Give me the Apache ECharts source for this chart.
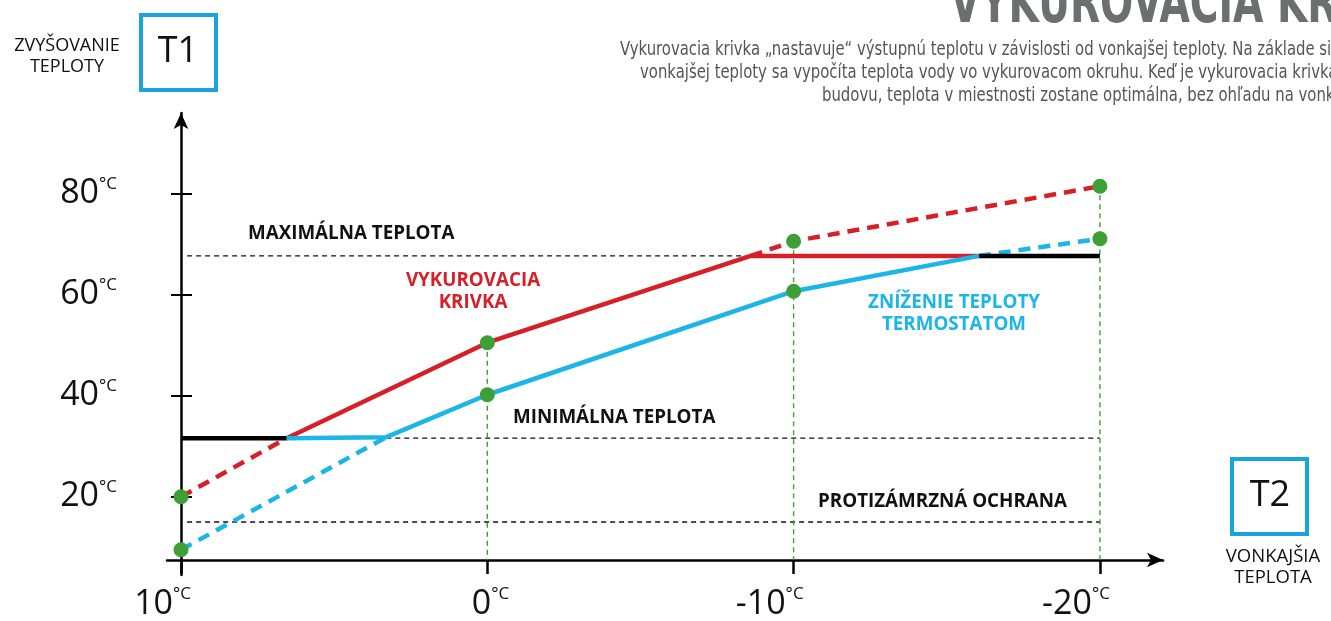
<!DOCTYPE html>
<html>
<head>
<meta charset="utf-8">
<script src="https://cdn.jsdelivr.net/npm/echarts@6/dist/echarts.min.js"></script>
<style>
  html, body { margin: 0; padding: 0; background: #fff; }
  #chart { width: 1331px; height: 621px; }
</style>
</head>
<body>
<div id="chart"></div>
<script>
// Axis ticks (outside temperature T2, supply temperature T1)
const xTicks = [10, 0, -10, -20];
const yTicks = [20, 40, 60, 80];

// Level where the horizontal axis crosses the vertical one
const axisBase = 7.5;

// Heating curve (red)
const heatLow  = [[10, 20], [6.55, 31.6]];
const heatMain = [[6.55, 31.6], [0, 50.5], [-8.6, 67.7], [-16.05, 67.7]];
const heatHigh = [[-8.6, 67.7], [-10, 70.6], [-20, 81.5]];

// Curve lowered by the thermostat (blue)
const lowLow  = [[10, 9.5], [3.3, 31.8]];
const lowMain = [[6.55, 31.6], [3.3, 31.8], [0, 40.2], [-10, 60.7], [-16.05, 67.7]];
const lowHigh = [[-16.05, 67.7], [-20, 71.1]];

// Limits
const minLimit   = [[10, 31.6], [6.55, 31.6]];
const maxLimit   = [[-16.05, 67.7], [-20, 67.7]];
const maxGuide   = [[9.8, 67.7], [-8.6, 67.7]];
const minGuide   = [[3.3, 31.6], [-20, 31.6]];
const frostGuide = [[9.8, 15], [-20, 15]];

// Marked points
const points = [[10, 20], [10, 9.5], [0, 50.5], [0, 40.2], [-10, 70.6], [-10, 60.7], [-20, 81.5], [-20, 71.1]];
const dropFrom = [[0, 50.5], [-10, 70.6], [-20, 81.5]];

const RED = '#d71f27';
const BLUE = '#1bb5e8';
const GREEN = '#3d9f36';
const FONT = 'Open Sans, sans-serif';
const NARROW = '"Liberation Sans Narrow", "DejaVu Sans Condensed", "Liberation Sans", sans-serif';

function line(data, color, width, dashed, dash, z) {
  return {
    type: 'line', data: data, symbol: 'none', silent: true, animation: false, z: z || 3,
    lineStyle: { color: color, width: width, type: dashed ? (dash || [12, 8]) : 'solid', cap: 'butt' }
  };
}

const series = [
  line(frostGuide, '#111', 1.4, true, [5, 4], 2),
  line(minGuide, '#111', 1.4, true, [5, 4], 2),
  line(maxGuide, '#111', 1.4, true, [5, 4], 2),
  ...dropFrom.map(p => line([p, [p[0], axisBase]], GREEN, 1.4, true, [5, 4], 2)),
  line(minLimit, '#000', 4.5, false, null, 4),
  line(maxLimit, '#000', 4.5, false, null, 4),
  line(heatLow, RED, 4.5, true),
  line(heatMain, RED, 4.5, false),
  line(heatHigh, RED, 4.5, true),
  line(lowLow, BLUE, 4.5, true),
  line(lowMain, BLUE, 4.5, false, null, 5),
  line(lowHigh, BLUE, 4.5, true),
  {
    type: 'scatter', data: points, symbolSize: 15, silent: true, animation: false, z: 10,
    itemStyle: { color: GREEN, opacity: 1 }
  }
];

const degRich = {
  n: { fontSize: 34, fontFamily: FONT, color: '#111', lineHeight: 36 },
  u: { fontSize: 17, fontFamily: FONT, color: '#111', verticalAlign: 'top', lineHeight: 20 },
  // the zero label sits a little further right
  z: { fontSize: 17, fontFamily: FONT, color: '#111', verticalAlign: 'top', lineHeight: 20, padding: [0, -12, 0, 0] }
};

const chart = echarts.init(document.getElementById('chart'), null, { renderer: 'canvas' });
chart.setOption({
  backgroundColor: '#fff',
  animation: false,
  grid: { left: 167, right: 168, top: 113, bottom: 44 },
  xAxis: {
    type: 'value', min: -22.06, max: 10.457, inverse: true, position: 'bottom', offset: -15,
    splitLine: { show: false },
    axisLine: { onZero: false, lineStyle: { color: '#000', width: 2.5 }, symbol: ['none', 'arrow'], symbolSize: [11, 16] },
    axisTick: { customValues: xTicks, length: 14, lineStyle: { color: '#000', width: 2.5 } },
    axisLabel: {
      customValues: xTicks, margin: 26, align: 'right', padding: [0, -10, 0, 0],
      formatter: v => '{n|' + v + '}{' + (v === 0 ? 'z' : 'u') + '|°C}', rich: degRich
    }
  },
  yAxis: [{
    type: 'value', min: 4.5, max: 96, position: 'left', offset: -14,
    splitLine: { show: false },
    axisLine: { onZero: false, lineStyle: { color: '#000', width: 2.5 }, symbol: ['none', 'arrow'], symbolSize: [11, 16] },
    axisTick: { customValues: yTicks, length: 10, lineStyle: { color: '#000', width: 2 } },
    axisLabel: {
      customValues: yTicks, margin: 64, align: 'right',
      formatter: v => '{n|' + v + '}{u|°C}', rich: degRich
    }
  }, {
    type: 'value', min: 4.5, max: 96, position: 'left', offset: -14,
    splitLine: { show: false }, axisLine: { show: false, onZero: false }, axisLabel: { show: false },
    axisTick: { customValues: yTicks, inside: true, length: 11, lineStyle: { color: '#000', width: 2 } }
  }],
  graphic: [
    // Title and description
    { type: 'text', x: 950, y: -22, scaleX: 0.75, style: { text: 'VYKUROVACIA KRIVKA', font: 'bold 58px ' + NARROW, fill: '#6d6e70' } },
    { type: 'text', x: 620, y: 41, scaleX: 0.87, style: { text: 'Vykurovacia krivka „nastavuje“ výstupnú teplotu v závislosti od vonkajšej teploty. Na základe signálu', font: '19px ' + NARROW, fill: '#555' } },
    { type: 'text', x: 640, y: 64, scaleX: 0.87, style: { text: 'vonkajšej teploty sa vypočíta teplota vody vo vykurovacom okruhu. Keď je vykurovacia krivka vhodne nastavená pre', font: '19px ' + NARROW, fill: '#555' } },
    { type: 'text', x: 822, y: 87, scaleX: 0.87, style: { text: 'budovu, teplota v miestnosti zostane optimálna, bez ohľadu na vonkajšiu teplotu.', font: '19px ' + NARROW, fill: '#555' } },
    // T1 box
    { type: 'rect', shape: { x: 141, y: 15, width: 75, height: 75 }, style: { fill: '#fff', stroke: '#1ba3df', lineWidth: 4 } },
    { type: 'text', style: { x: 178, y: 52, text: 'T1', font: '36px ' + FONT, fill: '#111', align: 'center', verticalAlign: 'middle' } },
    { type: 'text', style: { x: 67, y: 56, text: 'ZVYŠOVANIE\nTEPLOTY', font: '18px ' + FONT, lineHeight: 21, fill: '#111', align: 'center', verticalAlign: 'middle' } },
    // T2 box
    { type: 'rect', shape: { x: 1232, y: 459, width: 75, height: 75 }, style: { fill: '#fff', stroke: '#1ba3df', lineWidth: 4 } },
    { type: 'text', style: { x: 1270, y: 496, text: 'T2', font: '36px ' + FONT, fill: '#111', align: 'center', verticalAlign: 'middle' } },
    { type: 'text', style: { x: 1273, y: 567, text: 'VONKAJŠIA\nTEPLOTA', font: '18.5px ' + FONT, lineHeight: 21, fill: '#111', align: 'center', verticalAlign: 'middle' } },
    // Line captions
    { type: 'text', style: { x: 248, y: 234, text: 'MAXIMÁLNA TEPLOTA', font: 'bold 18.8px ' + FONT, fill: '#111', verticalAlign: 'middle' } },
    { type: 'text', style: { x: 473, y: 292, text: 'VYKUROVACIA\nKRIVKA', font: 'bold 18.8px ' + FONT, lineHeight: 22, fill: RED, align: 'center', verticalAlign: 'middle' } },
    { type: 'text', style: { x: 513, y: 418, text: 'MINIMÁLNA TEPLOTA', font: 'bold 18.8px ' + FONT, fill: '#111', verticalAlign: 'middle' } },
    { type: 'text', style: { x: 954, y: 314, text: 'ZNÍŽENIE TEPLOTY\nTERMOSTATOM', font: 'bold 18.8px ' + FONT, lineHeight: 22, fill: BLUE, align: 'center', verticalAlign: 'middle' } },
    { type: 'text', style: { x: 818, y: 502, text: 'PROTIZÁMRZNÁ OCHRANA', font: 'bold 18.8px ' + FONT, fill: '#111', verticalAlign: 'middle' } }
  ],
  series: series
});
</script>
</body>
</html>
